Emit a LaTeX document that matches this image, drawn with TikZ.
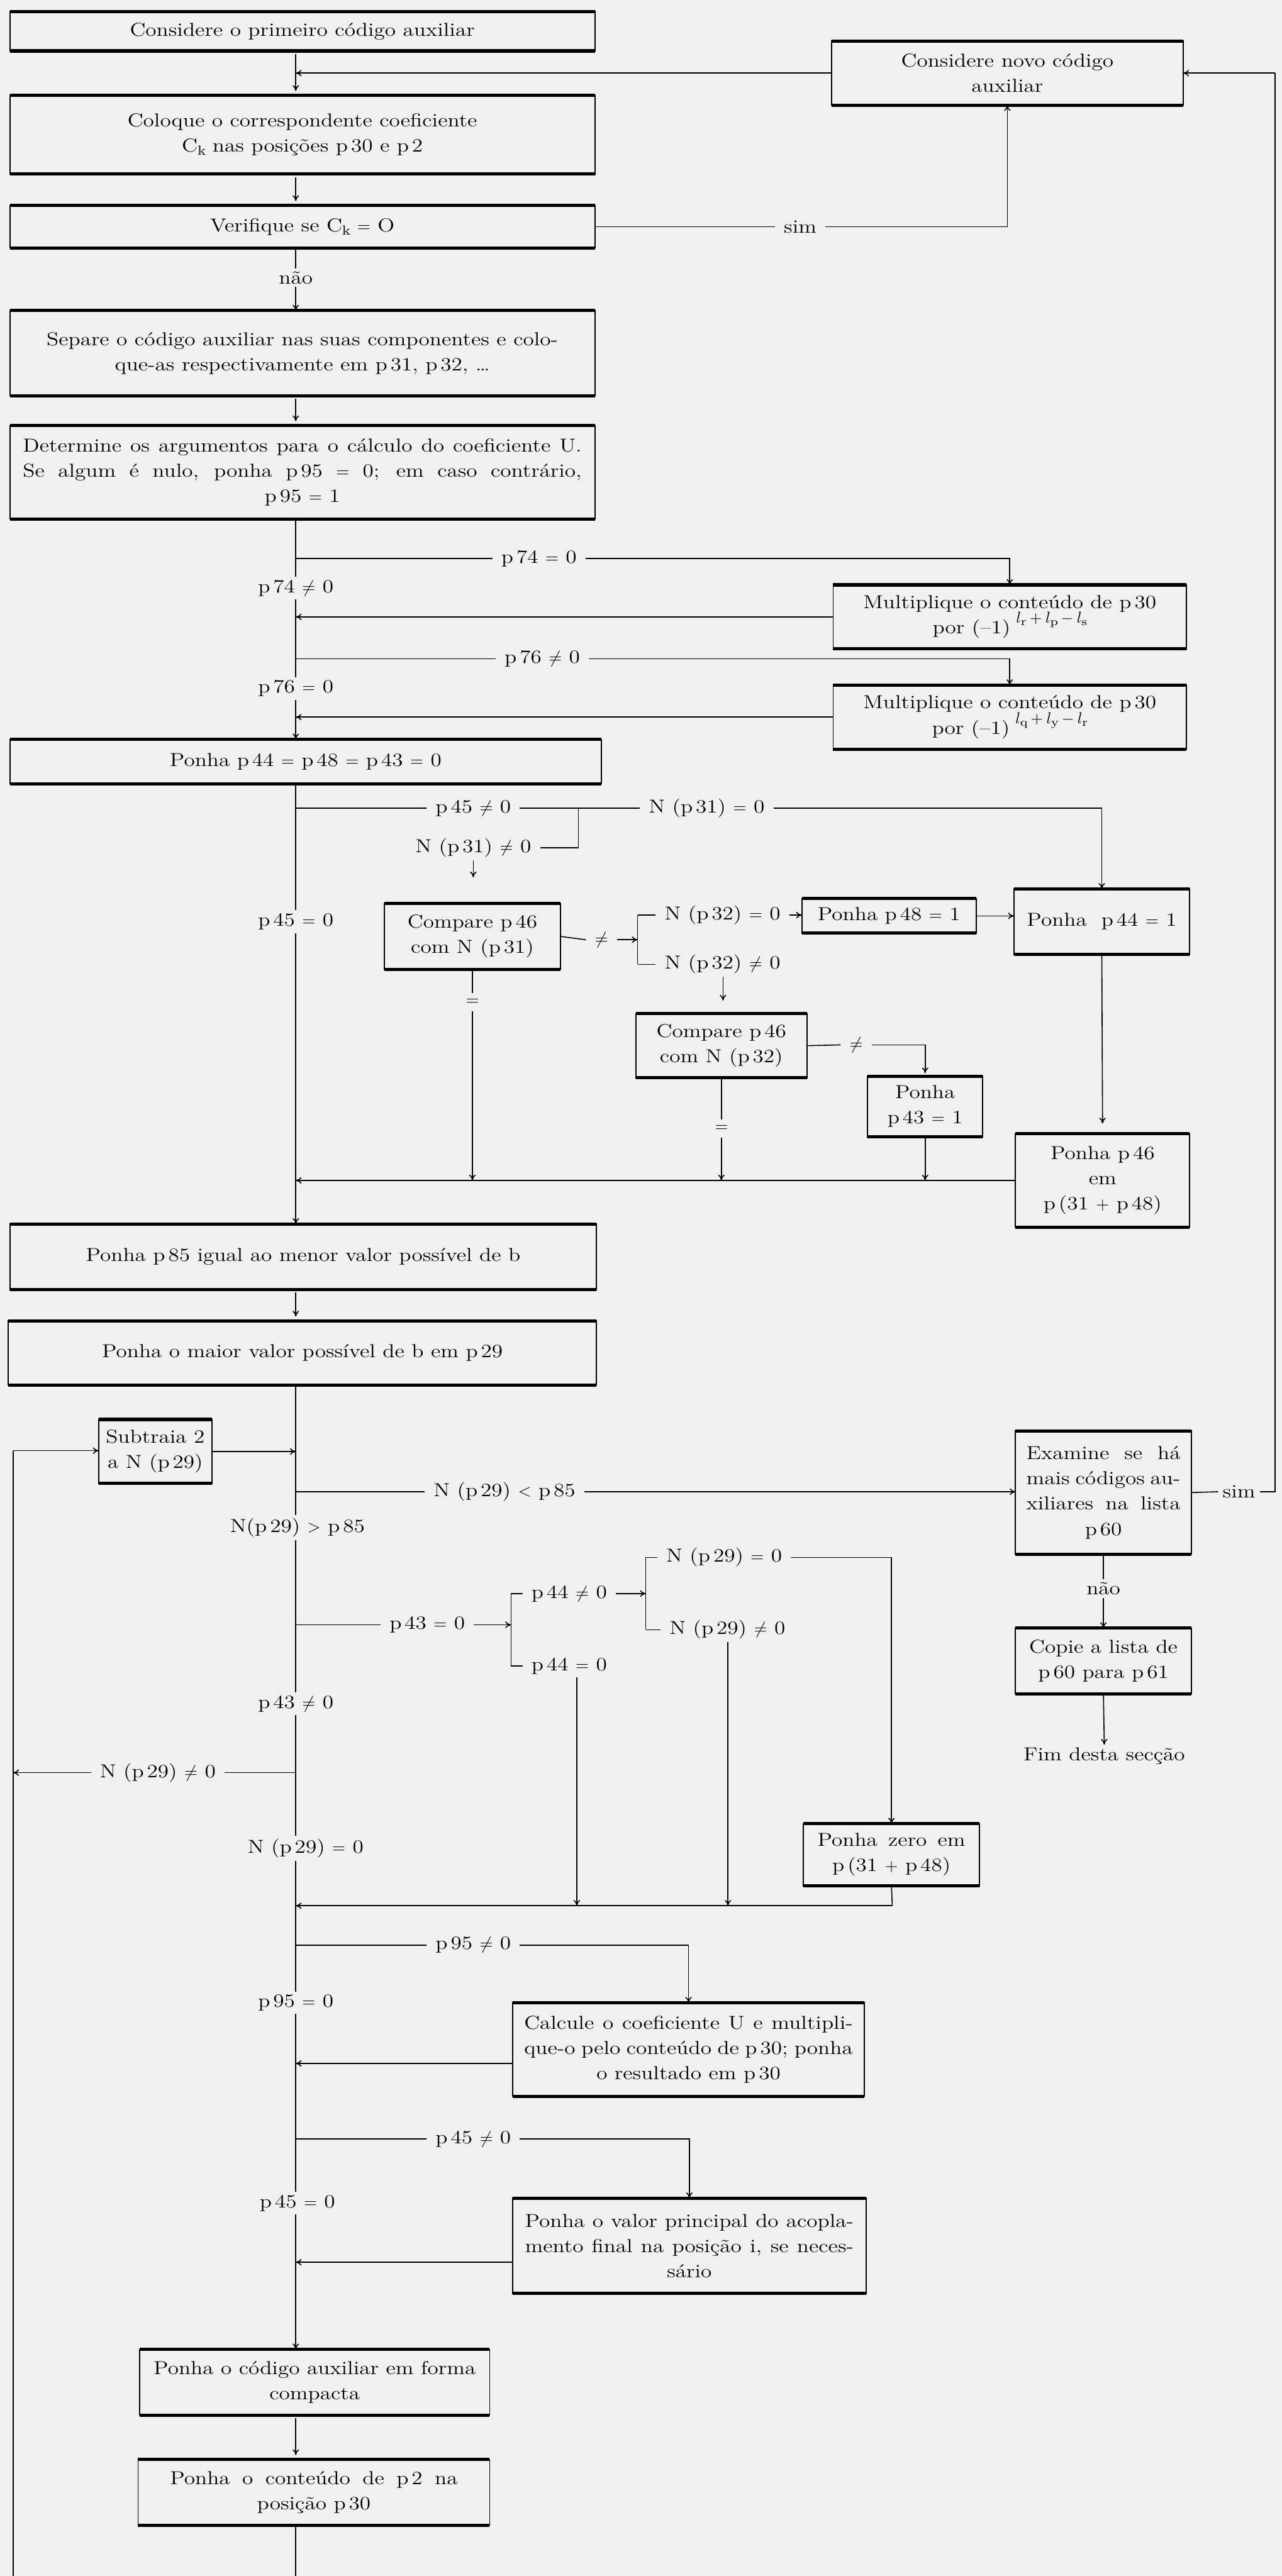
\documentclass[tikz,border=0pt]{standalone}
\usepackage{fontspec}
\setmainfont{Latin Modern Roman}[FakeStretch=1.18]
\usetikzlibrary{arrows.meta}
\newcommand\jline[2]{\makebox[#1][s]{#2}}
\newcommand\expo[1]{\raisebox{1.3ex}{\fontsize{11}{12}\selectfont$#1$}}
\newcommand\bx[6]{%
  \node[boxn, minimum width={(#4-#2)*0.04cm}, minimum height={(#5-#3)*0.04cm}] (#1) at ({(#2+#4)/2},{(#3+#5)/2}) {#6};
  \draw[thk] (#1.north west) -- (#1.north east) (#1.south west) -- (#1.south east);}
\begin{document}
\begin{tikzpicture}[x=0.04cm,y=-0.04cm,
  every node/.style={font=\fontsize{13}{17.5}\selectfont},
  boxn/.style={draw, line width=0.8pt, inner sep=0pt, outer sep=0pt, align=center},
  thk/.style={line width=2.2pt},
  lbl/.style={inner xsep=6pt, inner ysep=2pt, align=center},
  ln/.style={line width=0.7pt},
  arr/.style={ln, -{To[length=4pt,width=4.5pt]}},
  gap/.style={shorten <=2pt, shorten >=3pt},
]
\path[use as bounding box, fill=black!6] (0,0) rectangle (780,1568);
\coordinate (mx) at (180,0);

% ---------- boxes ----------
\bx{b1}{6}{7}{362}{31}{Considere o primeiro código auxiliar}
\bx{bnovo}{506}{25}{720}{64}{Considere novo código\\auxiliar}
\bx{b2}{6}{58}{362}{106}{Coloque o correspondente coeficiente\\C$_\mathrm{k}$ nas posições p\,30 e p\,2}
\bx{b3}{6}{125}{362}{151}{Verifique se C$_\mathrm{k}$ $=$ O}
\bx{b4}{6}{189}{362}{241}{Separe o código auxiliar nas suas componentes e colo-\\que-as respectivamente em p\,31, p\,32, \dots}
\bx{b5}{6}{259}{362}{316}{\jline{13.6cm}{Determine os argumentos para o cálculo do coeficiente U.}\\\jline{13.6cm}{Se algum é nulo, ponha p\,95 $=$ 0; em caso contrário,}\\p\,95 $=$ 1}
\bx{m1}{507}{356}{722}{395}{Multiplique o conteúdo de p\,30\\por (\textendash1)\,\expo{\,l_\mathrm{r} + l_\mathrm{p} - l_\mathrm{s}}}
\bx{m2}{507}{417}{722}{456}{Multiplique o conteúdo de p\,30\\por (\textendash1)\,\expo{\,l_\mathrm{q} + l_\mathrm{y} - l_\mathrm{r}}}
\bx{b6}{6}{450}{366}{477}{Ponha p\,44 $=$ p\,48 $=$ p\,43 $=$ 0}
\bx{c1}{234}{550}{341}{590}{Compare p\,46\\com N (p\,31)}
\bx{p48}{488}{547}{594}{568}{Ponha p\,48 $=$ 1}
\bx{p44}{617}{541}{724}{581}{Ponha \ p\,44 $=$ 1}
\bx{c2}{387}{617}{491}{656}{Compare p\,46\\com N (p\,32)}
\bx{p43}{528}{655}{598}{692}{Ponha\\p\,43 $=$ 1}
\bx{p46}{618}{690}{724}{747}{Ponha p\,46\\em\\p\,(31 $+$ p\,48)}
\bx{b85}{6}{745}{363}{785}{Ponha p\,85 igual ao menor valor possível de b}
\bx{b29}{5}{804}{363}{843}{Ponha o maior valor possível de b em p\,29}
\bx{sub}{60}{864}{129}{903}{Subtraia 2\\a N (p\,29)}
\bx{exam}{618}{871}{725}{946}{\jline{3.75cm}{Examine se há}\\\jline{3.75cm}{mais códigos au-}\\\jline{3.75cm}{xiliares na lista}\\p\,60}
\bx{copie}{618}{991}{725}{1031}{Copie a lista de\\p\,60 para p\,61}
\bx{zero}{489}{1110}{596}{1148}{\jline{3.6cm}{Ponha zero em}\\p\,(31 $+$ p\,48)}
\bx{calc}{312}{1219}{526}{1276}{\jline{8.0cm}{Calcule o coeficiente U e multipli-}\\\jline{8.0cm}{que-o pelo conteúdo de p\,30; ponha}\\o resultado em p\,30}
\bx{valor}{312}{1338}{527}{1396}{\jline{8.0cm}{Ponha o valor principal do acopla-}\\\jline{8.0cm}{mento final na posição i, se neces-}\\sário}
\bx{compact}{85}{1430}{298}{1470}{Ponha o código auxiliar em forma\\compacta}
\bx{conteudo}{84}{1497}{298}{1537}{\jline{7.0cm}{Ponha o conteúdo de p\,2 na}\\posição p\,30}
\node[lbl] (fim) at (672,1069) {Fim desta secção};

% ---------- labels ----------
\node[lbl] (sim1) at (487,138) {sim};
\node[lbl] (nao1) at (180,169) {não};
\node[lbl] (l74eq) at (328,340) {p\,74 $=$ 0};
\node[lbl] (l74ne) at (180,358) {p\,74 $\neq$ 0};
\node[lbl] (l76ne) at (330,401) {p\,76 $\neq$ 0};
\node[lbl] (l76eq) at (180,419) {p\,76 $=$ 0};
\node[lbl] (l45ne) at (288,492) {p\,45 $\neq$ 0};
\node[lbl] (ln31eq) at (430,492) {N (p\,31) $=$ 0};
\node[lbl] (ln31ne) at (288,516) {N (p\,31) $\neq$ 0};
\node[lbl] (l45eq) at (180,561) {p\,45 $=$ 0};
\node[lbl] (ne1) at (366,572) {$\neq$};
\node[lbl, anchor=west] (ln32eq) at (399,557) {N (p\,32) $=$ 0};
\node[lbl, anchor=west] (ln32ne) at (399,587) {N (p\,32) $\neq$ 0};
\node[lbl, inner ysep=4pt] (eq1) at (287.5,610) {$=$};
\node[lbl] (ne2) at (521,636) {$\neq$};
\node[lbl, inner ysep=4pt] (eq2) at (439,687) {$=$};
\node[lbl] (ln29lt) at (307,908) {N (p\,29) $<$ p\,85};
\node[lbl] (ln29gt) at (181,930) {N(p\,29) $>$ p\,85};
\node[lbl, inner xsep=3pt] (simr) at (754,908) {sim};
\node[lbl] (nao2) at (671.5,967) {não};
\node[lbl] (l43eq) at (260,989) {p\,43 $=$ 0};
\node[lbl, anchor=west] (l44ne) at (318,970) {p\,44 $\neq$ 0};
\node[lbl, anchor=west] (l44eq) at (318,1014) {p\,44 $=$ 0};
\node[lbl, anchor=west] (ln29eq) at (400,948) {N (p\,29) $=$ 0};
\node[lbl, anchor=west] (ln29ne) at (402,992) {N (p\,29) $\neq$ 0};
\node[lbl] (l43ne) at (180,1037) {p\,43 $\neq$ 0};
\node[lbl] (ln29ne2) at (96,1079) {N (p\,29) $\neq$ 0};
\node[lbl] (ln29eq2) at (186,1125) {N (p\,29) $=$ 0};
\node[lbl] (l95ne) at (288,1184) {p\,95 $\neq$ 0};
\node[lbl] (l95eq) at (180,1219) {p\,95 $=$ 0};
\node[lbl] (l45ne2) at (288,1302) {p\,45 $\neq$ 0};
\node[lbl] (l45eq2) at (181,1341) {p\,45 $=$ 0};

% ---------- connectors: top ----------
\draw[arr, gap] (b1.south -| mx) -- (b2.north -| mx);
\draw[arr] (bnovo.west) -- (bnovo.west -| mx);
\draw[ln] (b3.east) -- (sim1.west);
\draw[arr] (sim1.east) -| (bnovo.south);
\draw[arr, gap] (b2.south -| mx) -- (b3.north -| mx);
\draw[ln] (b3.south -| mx) -- (nao1.north -| mx);
\draw[arr] (nao1.south -| mx) -- (b4.north -| mx);
\draw[arr, gap] (b4.south -| mx) -- (b5.north -| mx);
\draw[ln] (b5.south -| mx) -- (l74ne.north -| mx);
\draw[ln] (l74ne.south -| mx) -- (l76eq.north -| mx);
\draw[arr] (l76eq.south -| mx) -- (b6.north -| mx);
\coordinate (j74) at (180,340);
\draw[ln] (j74) -- (l74eq.west);
\draw[arr] (l74eq.east) -| (m1.north);
\draw[arr] (m1.west) -- (m1.west -| mx);
\coordinate (j76) at (180,401);
\draw[ln] (j76) -- (l76ne.west);
\draw[arr] (l76ne.east) -| (m2.north);
\draw[arr] (m2.west) -- (m2.west -| mx);

% ---------- p44 section ----------
\draw[ln] (b6.south -| mx) -- (l45eq.north -| mx);
\draw[arr] (l45eq.south -| mx) -- (b85.north -| mx);
\coordinate (j45) at (180,492);
\draw[ln] (j45) -- (l45ne.west);
\draw[ln] (l45ne.east) -- (ln31eq.west);
\draw[arr] (ln31eq.east) -| (p44.north);
\coordinate (k31) at (352,492);
\draw[ln] (k31) |- (ln31ne.east);
\coordinate (a31) at (288,534);
\draw[arr] (ln31ne.south) -- (a31);
\draw[ln] (c1.east) -- (ne1.west);
\coordinate (k32) at (388,572);
\coordinate (k32t) at (388,557);
\coordinate (k32b) at (388,587);
\draw[arr] (ne1.east) -- (k32);
\draw[ln] (k32t) -- (k32b);
\draw[ln] (k32t) -- (ln32eq.west);
\draw[ln] (k32b) -- (ln32ne.west);
\draw[arr] (ln32eq.east) -- (ln32eq.east -| p48.west);
\draw[arr] (p48.east) -- (p48.east -| p44.west);
\coordinate (a32) at (440,609);
\draw[arr] (ln32ne.south -| a32) -- (a32);
\draw[ln] (c2.east) -- (ne2.west);
\draw[arr, shorten >=2pt] (ne2.east) -| (p43.north);
\draw[arr, shorten >=7pt] (p44.south) -- (p46.north);
\draw[ln] (c1.south -| eq1) -- (eq1.north);
\draw[arr] (eq1.south) -- (eq1.south |- p46.west);
\draw[ln] (c2.south -| eq2) -- (eq2.north);
\draw[arr] (eq2.south) -- (eq2.south |- p46.west);
\draw[arr] (p43.south) -- (p43.south |- p46.west);
\draw[arr] (p46.west) -- (p46.west -| mx);

% ---------- lower main line ----------
\draw[arr, gap] (b85.south -| mx) -- (b29.north -| mx);
\draw[ln] (b29.south -| mx) -- (ln29gt.north -| mx);
\draw[ln] (ln29gt.south -| mx) -- (l43ne.north -| mx);
\draw[ln] (l43ne.south -| mx) -- (ln29eq2.north -| mx);
\draw[ln] (ln29eq2.south -| mx) -- (l95eq.north -| mx);
\draw[ln] (l95eq.south -| mx) -- (l45eq2.north -| mx);
\draw[arr] (l45eq2.south -| mx) -- (compact.north -| mx);
\draw[arr, gap] (compact.south -| mx) -- (conteudo.north -| mx);
\coordinate (bot) at (180,1568);
\draw[ln] (conteudo.south -| mx) -- (bot);

% left loop
\coordinate (ltop) at (8,883);
\coordinate (lbot) at (8,1568);
\draw[ln] (lbot) -- (ltop);
\draw[arr] (ltop) -- (ltop -| sub.west);
\draw[arr] (sub.east) -- (sub.east -| mx);
\coordinate (j29) at (180,1079);
\draw[ln] (j29) -- (ln29ne2.east);
\draw[arr] (ln29ne2.west) -- (ln29ne2.west -| ltop);

% N(p29) < p85 and right loop
\coordinate (j85) at (180,908);
\draw[ln] (j85) -- (ln29lt.west);
\draw[arr] (ln29lt.east) -- (ln29lt.east -| exam.west);
\draw[ln] (exam.east) -- (simr.west);
\coordinate (rtop) at (776,44.5);
\draw[ln] (simr.east) -| (rtop);
\draw[arr] (rtop) -- (bnovo.east);
\draw[ln] (exam.south) -- (nao2.north);
\draw[arr] (nao2.south) -- (copie.north);
\draw[arr] (copie.south) -- (fim.north);

% p43 = 0 branch
\coordinate (j43) at (180,989);
\draw[ln] (j43) -- (l43eq.west);
\coordinate (k43) at (311,989);
\coordinate (k43t) at (311,970);
\coordinate (k43b) at (311,1014);
\draw[arr] (l43eq.east) -- (k43);
\draw[ln] (k43t) -- (k43b);
\draw[ln] (k43t) -- (l44ne.west);
\draw[ln] (k43b) -- (l44eq.west);
\coordinate (k44) at (393,970);
\coordinate (k44t) at (393,948);
\coordinate (k44b) at (393,992);
\draw[arr] (l44ne.east) -- (k44);
\draw[ln] (k44t) -- (k44b);
\draw[ln] (k44t) -- (ln29eq.west);
\draw[ln] (k44b) -- (ln29ne.west);
\draw[arr] (ln29eq.east) -| (zero.north);
\coordinate (rz) at (543,1160);
\draw[ln] (zero.south) -- (rz);
\draw[arr] (rz) -- (rz -| mx);
\coordinate (v29) at (443,1160);
\draw[arr] (ln29ne.south -| v29) -- (v29);
\coordinate (v44) at (351,1160);
\draw[arr] (l44eq.south -| v44) -- (v44);

% p95 and p45 branches
\coordinate (j95) at (180,1184);
\draw[ln] (j95) -- (l95ne.west);
\draw[arr] (l95ne.east) -| (calc.north);
\coordinate (rc) at (180,1256);
\draw[arr] (rc -| calc.west) -- (rc);
\coordinate (j452) at (180,1302);
\draw[ln] (j452) -- (l45ne2.west);
\draw[arr] (l45ne2.east) -| (valor.north);
\coordinate (rv) at (180,1377);
\draw[arr] (rv -| valor.west) -- (rv);
\end{tikzpicture}
\end{document}
